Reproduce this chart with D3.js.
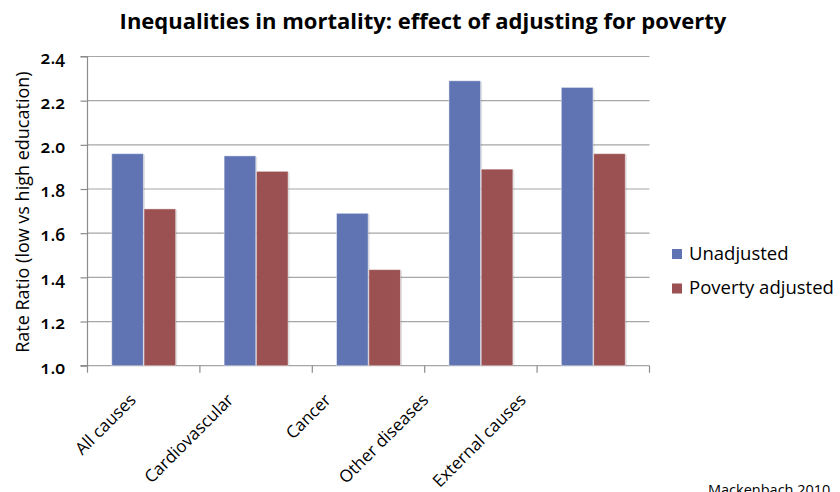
<!DOCTYPE html>
<html>
<head>
<meta charset="utf-8">
<script src="https://cdn.jsdelivr.net/npm/d3@7"></script>
<style>
  html, body { margin: 0; padding: 0; background: #fff; }
  svg { display: block; }
  text { font-family: "Open Sans", Lato, sans-serif; fill: #000; }
  .title { font-size: 22px; font-weight: bold; }
  .num { font-size: 17.5px; font-weight: 600; font-variant-numeric: oldstyle-nums; }
</style>
</head>
<body>
<svg id="chart" width="840" height="492"></svg>
<script>
// Rate ratios (low vs high education) by cause of death
const categories = ["All causes", "Cardiovascular", "Cancer", "Other diseases", "External causes"];
const seriesNames = ["Unadjusted", "Poverty adjusted"];
const unadjusted = [1.96, 1.95, 1.69, 2.29, 2.26];
const povertyAdjusted = [1.71, 1.88, 1.435, 1.89, 1.96];
const yTicks = [1.0, 1.2, 1.4, 1.6, 1.8, 2.0, 2.2, 2.4];
const colors = ["#6074B3", "#9B5052"];

const svg = d3.select("#chart");
const plot = { left: 87.5, right: 649.5, top: 56.5, bottom: 365.7 };

const x = d3.scaleBand().domain(categories).range([plot.left, plot.right]).paddingInner(0).paddingOuter(0);
const inner = d3.scaleBand().domain(seriesNames).range([0, x.bandwidth()]).paddingInner(0.02).paddingOuter(0.75);
const y = d3.scaleLinear().domain([1.0, 2.4]).range([plot.bottom, plot.top]);

// Title
svg.append("text")
  .attr("class", "title")
  .attr("x", 423).attr("y", 29)
  .attr("text-anchor", "middle")
  .text("Inequalities in mortality: effect of adjusting for poverty");

// Horizontal gridlines
svg.append("g").selectAll("line").data(yTicks.slice(1)).join("line")
  .attr("x1", plot.left).attr("x2", plot.right)
  .attr("y1", d => y(d)).attr("y2", d => y(d))
  .attr("stroke", "#A6A6A6").attr("stroke-width", 1.2);

// Y axis
const yAxis = svg.append("g")
  .attr("transform", `translate(${plot.left},0)`)
  .call(d3.axisLeft(y).tickValues(yTicks).tickFormat(d3.format(".1f")).tickSize(7).tickPadding(15.5));
yAxis.select(".domain").attr("stroke", "#8C8C8C").attr("stroke-width", 1.2).attr("d", `M-7,${y(1.0)}H0V${y(2.4)}H-7`);
yAxis.selectAll(".tick line").attr("stroke", "#8C8C8C").attr("stroke-width", 1.2);
yAxis.selectAll(".tick text")
  .attr("class", "num")
  .attr("fill", "#000")
  .attr("dy", "0.42em");

// X axis
const xAxis = svg.append("g")
  .attr("transform", `translate(0,${plot.bottom})`);
xAxis.append("line")
  .attr("x1", plot.left).attr("x2", plot.right)
  .attr("stroke", "#A6A6A6").attr("stroke-width", 1.2);
const boundaries = d3.range(categories.length + 1).map(i => plot.left + i * x.step());
xAxis.selectAll("line.tick").data(boundaries).join("line")
  .attr("class", "tick")
  .attr("x1", d => d).attr("x2", d => d)
  .attr("y1", 0).attr("y2", 7)
  .attr("stroke", "#8C8C8C").attr("stroke-width", 1.2);

// Bars
const rows = categories.map((c, i) => ({ cat: c, vals: [unadjusted[i], povertyAdjusted[i]] }));
const groups = svg.append("g").selectAll("g").data(rows).join("g")
  .attr("transform", d => `translate(${x(d.cat)},0)`);
groups.selectAll("rect.shadow").data(d => d.vals.map((v, k) => ({ v, k }))).join("rect")
  .attr("class", "shadow")
  .attr("x", d => inner(seriesNames[d.k]) + 1.5)
  .attr("y", d => y(d.v) + 1)
  .attr("width", inner.bandwidth())
  .attr("height", d => y(1.0) - y(d.v) - 1)
  .attr("fill", "#000").attr("opacity", 0.12);
groups.selectAll("rect.bar").data(d => d.vals.map((v, k) => ({ v, k }))).join("rect")
  .attr("class", "bar")
  .attr("x", d => inner(seriesNames[d.k]))
  .attr("y", d => y(d.v))
  .attr("width", inner.bandwidth())
  .attr("height", d => y(1.0) - y(d.v))
  .attr("fill", d => colors[d.k])
  .attr("stroke", "rgba(255,255,255,0.45)").attr("stroke-width", 1);

// Category labels, rotated 45 degrees
const labelX = d3.scalePoint().domain(categories).range([128, 518]);
svg.append("g").selectAll("text").data(categories).join("text")
  .attr("transform", d => `translate(${labelX(d)},${392}) rotate(-45)`)
  .attr("text-anchor", "end")
  .attr("dy", "0.75em")
  .style("font-size", "17px")
  .text(d => d);

// Y axis title
svg.append("text")
  .attr("transform", `translate(29,${(plot.top + plot.bottom) / 2 + 1}) rotate(-90)`)
  .attr("text-anchor", "middle")
  .style("font-size", "18px")
  .text("Rate Ratio (low vs high education)");

// Legend
const legend = svg.append("g").selectAll("g").data(seriesNames).join("g")
  .attr("transform", (d, i) => `translate(672,${249 + i * 34.5})`);
legend.append("rect").attr("width", 10).attr("height", 10).attr("fill", (d, i) => colors[i]);
legend.append("text").attr("x", 17).attr("y", 10.5).style("font-size", "18.5px").text(d => d);

// Source note
svg.append("text")
  .attr("x", 708).attr("y", 495)
  .style("font-size", "14.5px")
  .text("Mackenbach 2010");
</script>
</body>
</html>
